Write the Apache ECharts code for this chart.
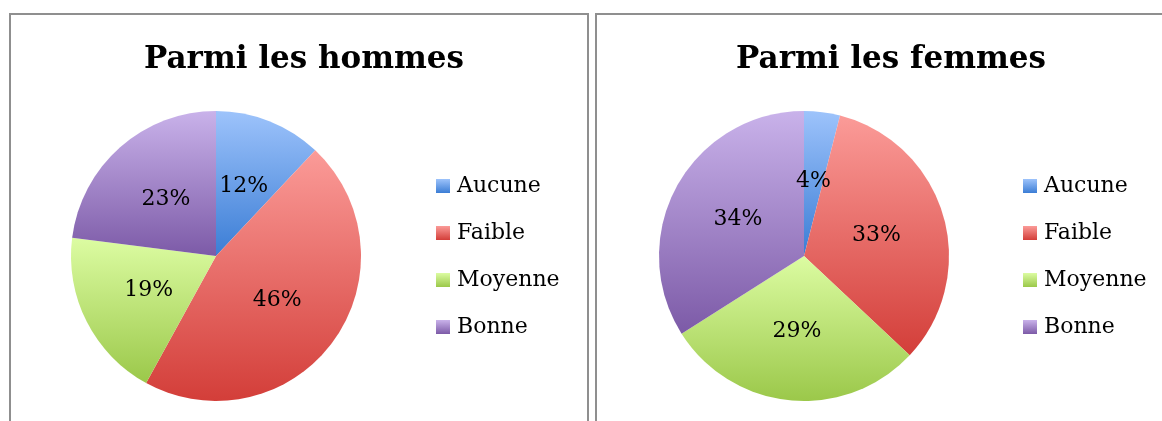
<!DOCTYPE html>
<html>
<head>
<meta charset="utf-8">
<script src="https://cdn.jsdelivr.net/npm/echarts@6/dist/echarts.min.js"></script>
<style>
  html, body { margin: 0; padding: 0; background: #fff; }
  #chart { width: 1162px; height: 421px; }
</style>
</head>
<body>
<div id="chart"></div>
<script>
const categories = ["Aucune", "Faible", "Moyenne", "Bonne"];
const hommes = [12, 46, 19, 23];
const femmes = [4, 33, 29, 34];
const titles = ["Parmi les hommes", "Parmi les femmes"];

const font = "DejaVu Serif";
// top / bottom colour of each slice gradient
const shades = [
  ["#9dc3fb", "#3b7dd5"],
  ["#fb9b98", "#d33e39"],
  ["#dcfca2", "#9bc84a"],
  ["#c9b2ea", "#7c5aa7"],
];

const grad = (i) => new echarts.graphic.LinearGradient(0, 0, 0, 1, [
  { offset: 0, color: shades[i][0] },
  { offset: 1, color: shades[i][1] },
]);

const toData = (values) => values.map((v, i) => ({
  name: categories[i],
  value: v,
  itemStyle: { color: grad(i) },
}));

const pieSeries = (values, cx) => ({
  type: "pie",
  radius: 145,
  center: [cx, 256],
  startAngle: 90,
  clockwise: true,
  silent: true,
  data: toData(values),
  label: {
    show: true,
    position: "inner",
    formatter: "{c}%",
    fontFamily: font,
    fontSize: 22,
    color: "#000",
  },
  labelLine: { show: false },
  itemStyle: { borderWidth: 0 },
});

const legendFor = (left) => ({
  orient: "vertical",
  left: left,
  top: 174,
  padding: 0,
  icon: "rect",
  itemWidth: 14,
  itemHeight: 14,
  itemGap: 23,
  data: categories,
  selectedMode: false,
  textStyle: {
    fontFamily: font, fontSize: 22, color: "#000", lineHeight: 24,
    padding: [0, 0, 0, 2],
  },
});

const chart = echarts.init(document.getElementById("chart"));

chart.setOption({
  animation: false,
  title: [
    {
      text: titles[0], left: 299, top: 39, textAlign: "center",
      textStyle: { fontFamily: font, fontSize: 31, fontWeight: "bold", color: "#000" },
    },
    {
      text: titles[1], left: 886, top: 39, textAlign: "center",
      textStyle: { fontFamily: font, fontSize: 31, fontWeight: "bold", color: "#000" },
    },
  ],
  legend: [legendFor(436), legendFor(1023)],
  graphic: [
    {
      type: "rect", silent: true,
      shape: { x: 10, y: 14, width: 578, height: 430 },
      style: { fill: "none", stroke: "#8f8f8f", lineWidth: 2 },
    },
    {
      type: "rect", silent: true,
      shape: { x: 596, y: 14, width: 600, height: 430 },
      style: { fill: "none", stroke: "#8f8f8f", lineWidth: 2 },
    },
  ],
  series: [pieSeries(hommes, 216), pieSeries(femmes, 804)],
});
</script>
</body>
</html>
